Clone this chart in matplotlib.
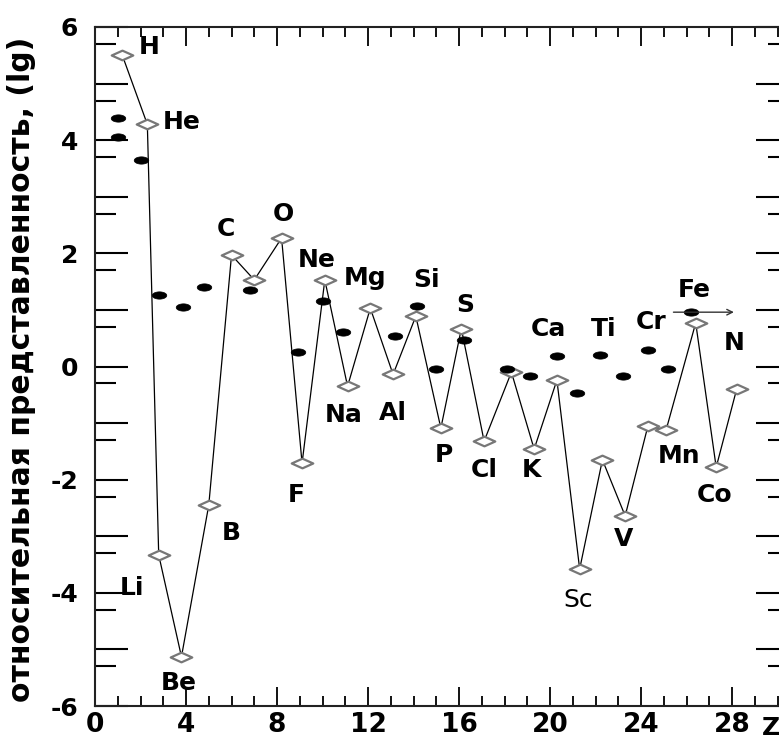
import numpy as np
import matplotlib
matplotlib.use("Agg")
import matplotlib.pyplot as plt
from matplotlib.path import Path
from matplotlib.ticker import FixedLocator, FuncFormatter

plt.rcParams['font.family'] = ['DejaVu Sans']
plt.rcParams['axes.unicode_minus'] = False

# ---- data ----
elements = ["H", "He", "Li", "Be", "B", "C", "N7", "O", "F", "Ne", "Na", "Mg", "Al", "Si",
            "P", "S", "Cl", "Ar", "K", "Ca", "Sc", "Ti", "V", "Cr", "Mn", "Fe", "Co", "N"]
z_pos = [1.2, 2.3, 2.8, 3.8, 5.0, 6.0, 7.0, 8.2, 9.1, 10.1, 11.1, 12.1, 13.1, 14.1,
         15.2, 16.1, 17.1, 18.3, 19.3, 20.3, 21.3, 22.3, 23.3, 24.3, 25.1, 26.4, 27.3, 28.2]
abund = [5.50, 4.28, -3.33, -5.13, -2.45, 1.97, 1.53, 2.27, -1.71, 1.53, -0.35, 1.03, -0.14, 0.89,
         -1.09, 0.67, -1.32, -0.10, -1.46, -0.24, -3.58, -1.65, -2.64, -1.05, -1.12, 0.77, -1.78, -0.40]

dot_z = [1.0, 1.0, 2.0, 2.8, 3.85, 4.8, 6.8, 8.9, 10.0, 10.9, 13.2, 14.15, 15.0, 16.2,
         18.1, 19.1, 20.3, 21.2, 22.2, 23.2, 24.3, 25.2, 26.2]
dot_val = [4.39, 4.06, 3.65, 1.26, 1.05, 1.40, 1.35, 0.26, 1.16, 0.61, 0.54, 1.07, -0.05, 0.46,
           -0.05, -0.17, 0.18, -0.47, 0.21, -0.16, 0.30, -0.05, 0.96]

# label text -> offset in points from its diamond
labels = {
    "H": (19, 6), "He": (25, 2), "Li": (-19, -24), "Be": (-2, -19), "B": (16, -20),
    "C": (-4, 19), "O": (1, 17), "Ne": (-6, 14), "F": (-4, -23), "Na": (-3, -21),
    "Mg": (-4, 22), "Al": (0, -28), "Si": (8, 26), "P": (2, -19), "S": (3, 17),
    "Cl": (0, -21), "K": (-2, -15), "Ca": (-6, 37), "Sc": (-1, -22), "Ti": (1, 94),
    "V": (-1, -17), "Cr": (2, 75), "Mn": (9, -19), "Fe": (-1, 24), "Co": (-1, -20),
    "N": (-2, 33),
}

ylabel = "относительная представленность, (lg)"

# ---- figure ----
W, H = 779, 742
fig = plt.figure(figsize=(W / 100, H / 100), dpi=100)
L, R, T, B = 95, 789, 27, 706
ax = fig.add_axes([L / W, 1 - B / H, (R - L) / W, (B - T) / H])
ax.set_xlim(0, 30.5)
ax.set_ylim(-6, 6)

diamond = Path([(-1, 0), (0, 0.45), (1, 0), (0, -0.45), (-1, 0)],
               [Path.MOVETO, Path.LINETO, Path.LINETO, Path.LINETO, Path.CLOSEPOLY])
t = np.linspace(0, 2 * np.pi, 40)
ellipse = Path(np.column_stack([np.cos(t), 0.5 * np.sin(t)]))

ax.plot(z_pos, abund, color='black', lw=0.9, zorder=2)
ax.plot(z_pos, abund, ls='none', marker=diamond, ms=15.5, mfc='white', mec='#777777',
        mew=1.6, zorder=3)
ax.plot(dot_z, dot_val, ls='none', marker=ellipse, ms=10.5, mfc='black', mec='black',
        mew=0.5, zorder=4)

for name, x, y in zip(elements, z_pos, abund):
    if name in labels:
        dx, dy = labels[name]
        ax.annotate(name, (x, y), xytext=(dx, dy), textcoords='offset points',
                    ha='center', va='center', fontsize=18,
                    fontweight='normal' if name == 'Sc' else 'bold', zorder=5)

# arrow from Fe
ax.annotate("", xy=(28.2, dot_val[-1]), xytext=(25.3, dot_val[-1]),
            arrowprops=dict(arrowstyle='->', color='#333333', lw=1.0), zorder=5)

# ticks
ax.xaxis.set_major_locator(FixedLocator(np.arange(0, 31, 4)))
ax.xaxis.set_minor_locator(FixedLocator(np.arange(0, 31, 1)))
ax.yaxis.set_major_locator(FixedLocator(np.arange(-6, 7, 1)))
ax.yaxis.set_minor_locator(FixedLocator(np.arange(-6, 6, 1) + 0.7))
ax.yaxis.set_major_formatter(FuncFormatter(lambda v, p: f"{int(round(v))}" if int(round(v)) % 2 == 0 else ""))
ax.tick_params(axis='x', which='major', direction='in', length=14, width=1.3,
               top=True, bottom=True, labelsize=19, pad=4)
ax.tick_params(axis='x', which='minor', direction='in', length=7, width=1.3,
               top=True, bottom=True)
ax.tick_params(axis='y', which='major', direction='in', length=24, width=1.5,
               left=True, right=True, labelsize=18, pad=12)
ax.tick_params(axis='y', which='minor', direction='in', length=15, width=1.5,
               left=True, right=True)
for lab in ax.get_xticklabels() + ax.get_yticklabels():
    lab.set_fontweight('bold')
for s in ax.spines.values():
    s.set_linewidth(1.5)
    s.set_color('#222222')

fig.text(22 / W, 1 - 369 / H, ylabel, rotation=90, ha='center', va='center',
         fontsize=21.5, fontweight='bold')
fig.text(762 / W, 1 - 728 / H, "Z", ha='left', va='center', fontsize=18, fontweight='bold')

fig.savefig("out.png", dpi=100)
